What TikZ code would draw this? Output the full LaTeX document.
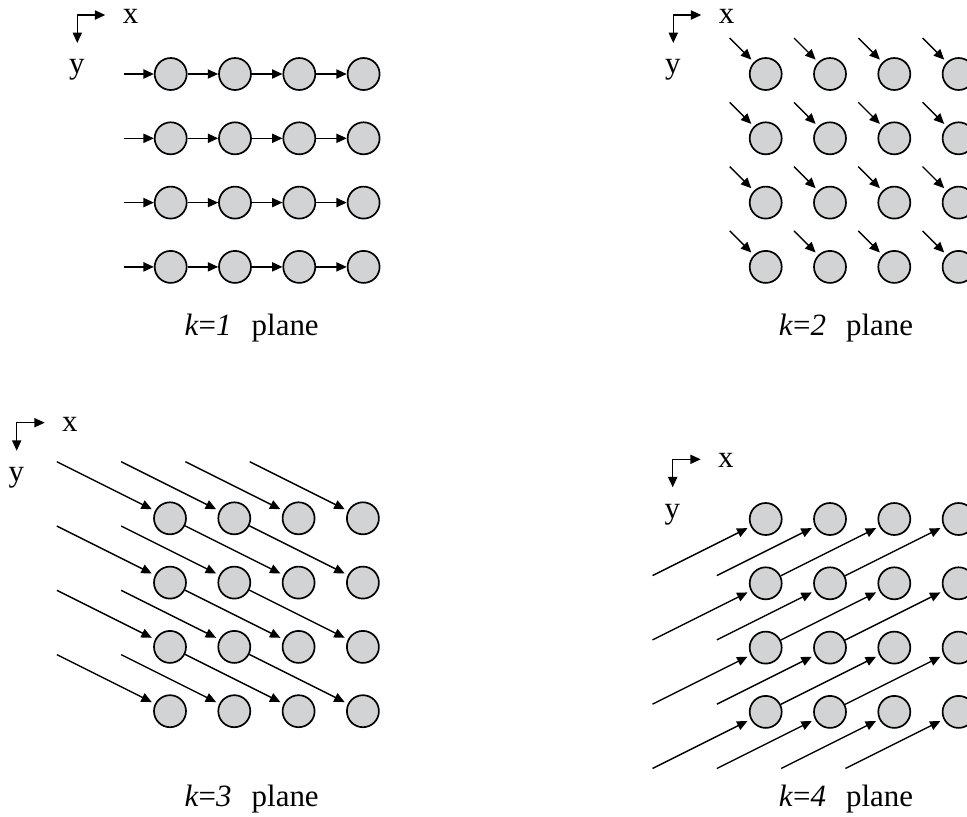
\documentclass[tikz,border=0pt]{standalone}
\usepackage{fontspec}
\setmainfont{Liberation Serif}
\usepackage{tikz}
\usetikzlibrary{arrows.meta,calc}

\definecolor{cellgray}{RGB}{209,211,213}

\tikzset{
  cell/.style={circle,draw,line width=1.2pt,fill=cellgray,minimum size=0.8cm,inner sep=0pt},
  ghost/.style={circle,minimum size=0.85cm,inner sep=0pt},
  link/.style={line width=1pt,-{Triangle[length=0.26cm,width=0.23cm]}},
  gap/.style={shorten >=2.5pt},
  axes/.pic={
    \draw[line width=1pt,{Triangle[length=0.26cm,width=0.23cm]}-{Triangle[length=0.26cm,width=0.23cm]}] (0.7,0) -- (0,0) -- (0,-0.7);
    \node at (1.33,-0.03) {x};
    \node at (-0.01,-1.38) {y};
  }
}

\begin{document}
\begin{tikzpicture}[font=\fontsize{22}{26}\selectfont]
  \useasboundingbox (0,0) rectangle (24.175,-20.425);

  \pic at (1.9325,-0.375) {axes};
  \begin{scope}[shift={(2.66cm,-0.2425cm)},x=1.6075cm,y=1.6075cm]
    \foreach \r in {1,...,4} {
      \node[ghost] (a\r0) at (0,-\r) {};
      \foreach \c in {1,...,4}
        \node[cell] (a\r\c) at (\c,-\r) {};
      \foreach \c [remember=\c as \p (initially 0)] in {1,...,4}
        \draw[link] (a\r\p) -- (a\r\c);
    }
  \end{scope}
  \node[anchor=base] (cap1) at (6.29,-8.375) {\textit{k}=\textit{1}\hspace{0.65em}plane};

  \pic at (16.8325,-0.375) {axes};
  \begin{scope}[shift={(17.535cm,-0.2425cm)},x=1.6075cm,y=1.6075cm]
    \foreach \r in {1,...,4}
      \foreach \c in {1,...,4} {
        \node[cell] (b\r\c) at (\c,-\r) {};
        \coordinate (t\r\c) at ($(b\r\c)+(-0.9cm,0.9cm)$);
        \draw[link,gap] (t\r\c) -- (b\r\c);
      }
  \end{scope}
  \node[anchor=base] (cap2) at (21.15,-8.375) {\textit{k}=\textit{2}\hspace{0.65em}plane};

  \pic at (0.4175,-10.5675) {axes};
  \begin{scope}[shift={(2.6425cm,-11.35cm)},x=1.6075cm,y=1.6075cm]
    \foreach \r/\c in {0/-1,0/0,0/1,0/2,1/-1,1/0,2/-1,2/0,3/-1,3/0}
      \node[ghost] (c\r\c) at (\c,-\r) {};
    \foreach \r in {1,...,4}
      \foreach \c in {1,...,4}
        \node[cell] (c\r\c) at (\c,-\r) {};
    \foreach \r in {1,...,4}
      \foreach \c in {1,...,4} {
        \pgfmathtruncatemacro\pr{\r-1}
        \pgfmathtruncatemacro\pc{\c-2}
        \draw[link,gap] (c\pr\pc) -- (c\r\c);
      }
  \end{scope}
  \node[anchor=base] (cap3) at (6.29,-20.15) {\textit{k}=\textit{3}\hspace{0.65em}plane};

  \pic at (16.8175,-11.4825) {axes};
  \begin{scope}[shift={(17.535cm,-11.3675cm)},x=1.6075cm,y=1.6075cm]
    \foreach \r/\c in {5/-1,5/0,5/1,5/2,4/-1,4/0,3/-1,3/0,2/-1,2/0}
      \node[ghost] (d\r\c) at (\c,-\r) {};
    \foreach \r in {1,...,4}
      \foreach \c in {1,...,4}
        \node[cell] (d\r\c) at (\c,-\r) {};
    \foreach \r in {1,...,4}
      \foreach \c in {1,...,4} {
        \pgfmathtruncatemacro\pr{\r+1}
        \pgfmathtruncatemacro\pc{\c-2}
        \draw[link,gap] (d\pr\pc) -- (d\r\c);
      }
  \end{scope}
  \node[anchor=base] (cap4) at (21.15,-20.15) {\textit{k}=\textit{4}\hspace{0.65em}plane};
\end{tikzpicture}
\end{document}
